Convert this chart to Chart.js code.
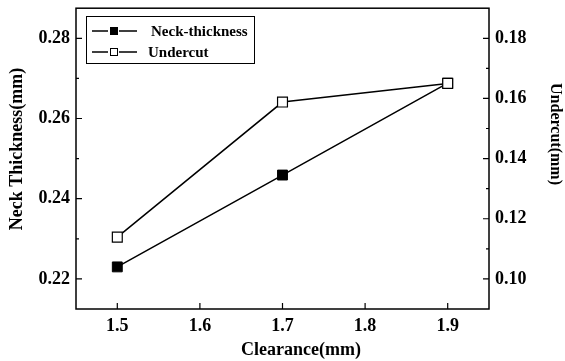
<!DOCTYPE html>
<html>
<head>
<meta charset="utf-8">
<script src="https://cdn.jsdelivr.net/npm/chart.js@4"></script>
<style>
  html, body { margin: 0; padding: 0; background: #fff; }
  #wrap { width: 565px; height: 361px; }
</style>
</head>
<body>
<div id="wrap"><canvas id="myChart" width="565" height="361"></canvas></div>
<script>
var clearance = [1.5, 1.7, 1.9];
var neckThickness = [0.2230, 0.2459, 0.2688];
var undercut = [0.1139, 0.1588, 0.1650];

var xTicks = [1.5, 1.6, 1.7, 1.8, 1.9];
var leftTicks = [0.22, 0.24, 0.26, 0.28];
var leftMinor = [0.23, 0.25, 0.27];
var rightTicks = [0.10, 0.12, 0.14, 0.16, 0.18];
var rightMinor = [0.11, 0.13, 0.15, 0.17];

var FONT = '"Liberation Serif", "Times New Roman", serif';

function pts(xs, ys) {
  var out = [];
  for (var i = 0; i < xs.length; i++) out.push({x: xs[i], y: ys[i]});
  return out;
}

// frame, inward ticks, labels, titles and the boxed legend
var originAxes = {
  id: 'originAxes',
  afterDraw: function(chart) {
    var c = chart.ctx, a = chart.chartArea;
    var sx = chart.scales.x, sy = chart.scales.y, sy2 = chart.scales.y2;
    c.save();
    c.strokeStyle = '#000';
    c.fillStyle = '#000';
    c.lineWidth = 1.5;
    c.strokeRect(a.left, a.top, a.right - a.left, a.bottom - a.top);

    c.lineWidth = 1.2;
    c.beginPath();
    xTicks.forEach(function(v) {
      var px = sx.getPixelForValue(v);
      c.moveTo(px, a.bottom); c.lineTo(px, a.bottom - 6);
    });
    leftTicks.forEach(function(v) {
      var py = sy.getPixelForValue(v);
      c.moveTo(a.left, py); c.lineTo(a.left + 6, py);
    });
    leftMinor.forEach(function(v) {
      var py = sy.getPixelForValue(v);
      c.moveTo(a.left, py); c.lineTo(a.left + 3, py);
    });
    rightTicks.forEach(function(v) {
      var py = sy2.getPixelForValue(v);
      c.moveTo(a.right, py); c.lineTo(a.right - 6, py);
    });
    rightMinor.forEach(function(v) {
      var py = sy2.getPixelForValue(v);
      c.moveTo(a.right, py); c.lineTo(a.right - 3, py);
    });
    c.stroke();

    c.font = 'bold 18px ' + FONT;
    c.textBaseline = 'middle';
    c.textAlign = 'center';
    xTicks.forEach(function(v) {
      c.fillText(v.toFixed(1), sx.getPixelForValue(v), a.bottom + 17);
    });
    c.textAlign = 'right';
    leftTicks.forEach(function(v) {
      c.fillText(v.toFixed(2), a.left - 6, sy.getPixelForValue(v));
    });
    c.textAlign = 'left';
    rightTicks.forEach(function(v) {
      c.fillText(v.toFixed(2), a.right + 6, sy2.getPixelForValue(v));
    });

    // axis titles
    c.textAlign = 'center';
    c.fillText('Clearance(mm)', 301, 350);
    c.save();
    c.translate(17, 149);
    c.rotate(-Math.PI / 2);
    c.fillText('Neck Thickness(mm)', 0, 0);
    c.restore();
    c.save();
    c.translate(555, 134);
    c.rotate(Math.PI / 2);
    c.font = 'bold 16px ' + FONT;
    c.fillText('Undercut(mm)', 0, 0);
    c.restore();

    // legend
    c.lineWidth = 1;
    c.strokeRect(86.5, 16.5, 168, 47);
    var rows = [
      {y: 31, text: 'Neck-thickness', tx: 151, fill: '#000'},
      {y: 52, text: 'Undercut', tx: 148, fill: '#fff'}
    ];
    c.font = 'bold 15px ' + FONT;
    c.textAlign = 'left';
    rows.forEach(function(r) {
      c.lineWidth = 1.5;
      c.beginPath();
      c.moveTo(92, r.y); c.lineTo(108, r.y);
      c.moveTo(119, r.y); c.lineTo(137, r.y);
      c.stroke();
      c.fillStyle = r.fill;
      c.fillRect(110, r.y - 4, 8, 8);
      c.lineWidth = 1;
      c.strokeRect(110.5, r.y - 3.5, 7, 7);
      c.fillStyle = '#000';
      c.fillText(r.text, r.tx, r.y + 1);
    });
    c.restore();
  }
};

var ctx = document.getElementById('myChart').getContext('2d');
var myChart = new Chart(ctx, {
  type: 'line',
  data: {
    datasets: [{
      label: 'Neck-thickness',
      data: pts(clearance, neckThickness),
      yAxisID: 'y',
      order: 1,
      borderColor: '#000',
      borderWidth: 1.5,
      pointStyle: 'rect',
      pointRadius: 7,
      pointBackgroundColor: '#000',
      pointBorderColor: '#000',
      pointBorderWidth: 1
    }, {
      label: 'Undercut',
      data: pts(clearance, undercut),
      yAxisID: 'y2',
      order: 0,
      borderColor: '#000',
      borderWidth: 1.5,
      pointStyle: 'rect',
      pointRadius: 7,
      pointBackgroundColor: '#fff',
      pointBorderColor: '#000',
      pointBorderWidth: 1.2
    }]
  },
  options: {
    responsive: false,
    animation: false,
    layout: { padding: { left: 76, right: 76, top: 7, bottom: 52 } },
    plugins: { legend: { display: false }, tooltip: { enabled: false } },
    scales: {
      x: { type: 'linear', min: 1.45, max: 1.95, display: false },
      y: { type: 'linear', position: 'left', min: 0.2125, max: 0.2875, display: false },
      y2: { type: 'linear', position: 'right', min: 0.09, max: 0.19, display: false }
    }
  },
  plugins: [originAxes]
});
</script>
</body>
</html>
